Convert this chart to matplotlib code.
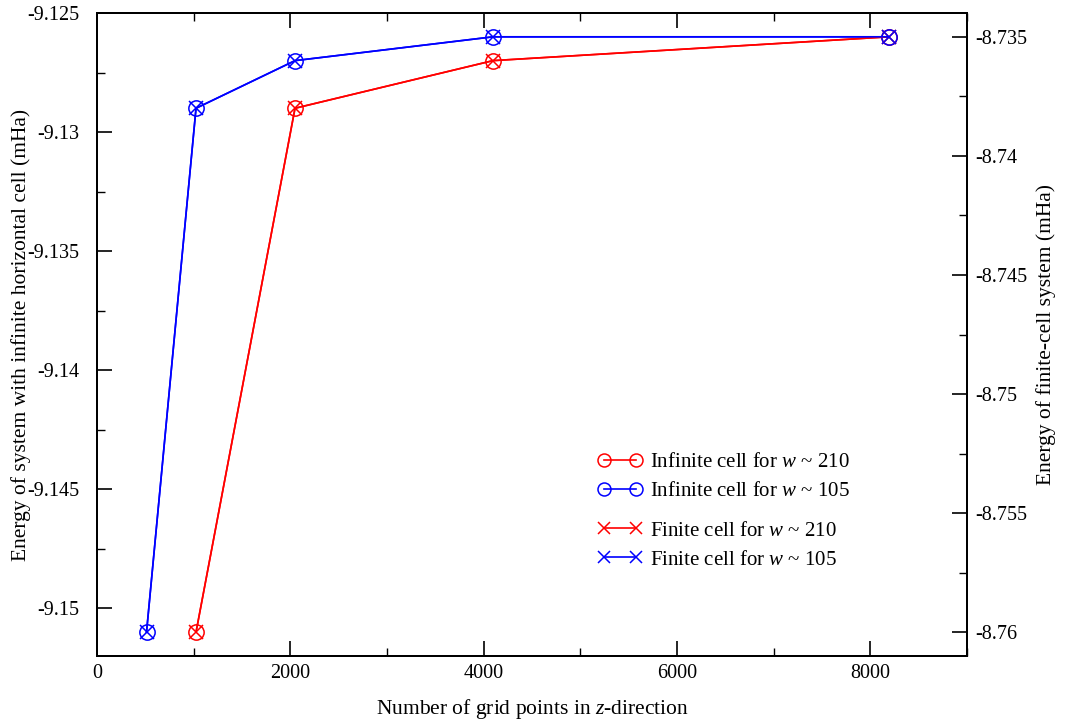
import matplotlib
matplotlib.use('Agg')
import matplotlib.pyplot as plt
from matplotlib.ticker import MultipleLocator, FormatStrFormatter

plt.rcParams['font.family'] = ['Liberation Serif', 'DejaVu Serif']
plt.rcParams['mathtext.fontset'] = 'custom'
plt.rcParams['mathtext.rm'] = 'Liberation Serif'
plt.rcParams['mathtext.it'] = 'Liberation Serif:italic'

# infinite horizontal cell (left axis)
inf_x_210 = [1024, 2048, 4096, 8192]
inf_e_210 = [-9.151, -9.129, -9.127, -9.126]
inf_x_105 = [512, 1024, 2048, 4096, 8192]
inf_e_105 = [-9.151, -9.129, -9.127, -9.126, -9.126]

# finite cell (right axis)
fin_x_210 = [1024, 2048, 4096, 8192]
fin_e_210 = [-8.760, -8.738, -8.736, -8.735]
fin_x_105 = [512, 1024, 2048, 4096, 8192]
fin_e_105 = [-8.760, -8.738, -8.736, -8.735, -8.735]


fig = plt.figure(figsize=(10.65, 7.22), dpi=100)
ax = fig.add_axes([0.0911, 0.0914, 0.817, 0.8906])
ax2 = ax.twinx()

l1, = ax.plot(inf_x_210, inf_e_210, color='#ff0000', lw=1.2, marker='o', ms=11,
              mfc='none', mew=1.1, label='Infinite cell for $w$ ~ 210')
l2, = ax.plot(inf_x_105, inf_e_105, color='#0000ff', lw=1.2, marker='o', ms=11,
              mfc='none', mew=1.1, label='Infinite cell for $w$ ~ 105')
l3, = ax2.plot(fin_x_210, fin_e_210, color='#ff0000', lw=1.2, marker='x', ms=10,
               mew=1.1, label='Finite cell for $w$ ~ 210')
l4, = ax2.plot(fin_x_105, fin_e_105, color='#0000ff', lw=1.2, marker='x', ms=10,
               mew=1.1, label='Finite cell for $w$ ~ 105')

ax.set_xlim(0, 9000)
ax.set_ylim(-9.152, -9.125)
ax2.set_ylim(-8.761, -8.734)

ax.xaxis.set_major_locator(MultipleLocator(2000))
ax.xaxis.set_minor_locator(MultipleLocator(1000))
ax.yaxis.set_major_locator(MultipleLocator(0.005))
ax.yaxis.set_minor_locator(MultipleLocator(0.0025))
ax2.yaxis.set_major_locator(MultipleLocator(0.005))
ax2.yaxis.set_minor_locator(MultipleLocator(0.0025))
ax.yaxis.set_major_formatter(FormatStrFormatter('%g'))
ax2.yaxis.set_major_formatter(FormatStrFormatter('%g'))

ax.tick_params(which='both', direction='in', top=True, right=False, labelsize=14.5)
ax.tick_params(which='major', length=11, width=1.2)
ax.tick_params(which='minor', length=5.5, width=1.0)
ax.tick_params(axis='y', pad=13)
ax.tick_params(axis='x', pad=6)
ax2.tick_params(which='both', direction='in', labelsize=14.5, pad=6)
ax2.tick_params(which='major', length=11, width=1.2)
ax2.tick_params(which='minor', length=5.5, width=1.0)

for a in (ax, ax2):
    for s in a.spines.values():
        s.set_linewidth(1.4)

ax.set_xlabel('Number of grid points in $z$-direction', fontsize=15.5, labelpad=10)
ax.set_ylabel('Energy of system with infinite horizontal cell (mHa)', fontsize=15.5, labelpad=-3)
ax2.set_ylabel('Energy of finite-cell system (mHa)', fontsize=15.5, labelpad=6)

leg_kw = dict(loc='upper left', frameon=False, fontsize=15, numpoints=2,
              handlelength=2.1, handletextpad=0.4, labelspacing=0.45,
              borderpad=0, borderaxespad=0, markerscale=0.85)
leg1 = ax2.legend(handles=[l1, l2], bbox_to_anchor=(0.576, 0.316), **leg_kw)
ax2.add_artist(leg1)
ax2.legend(handles=[l3, l4], bbox_to_anchor=(0.576, 0.21), **leg_kw)

fig.savefig('out.png', dpi=100)
